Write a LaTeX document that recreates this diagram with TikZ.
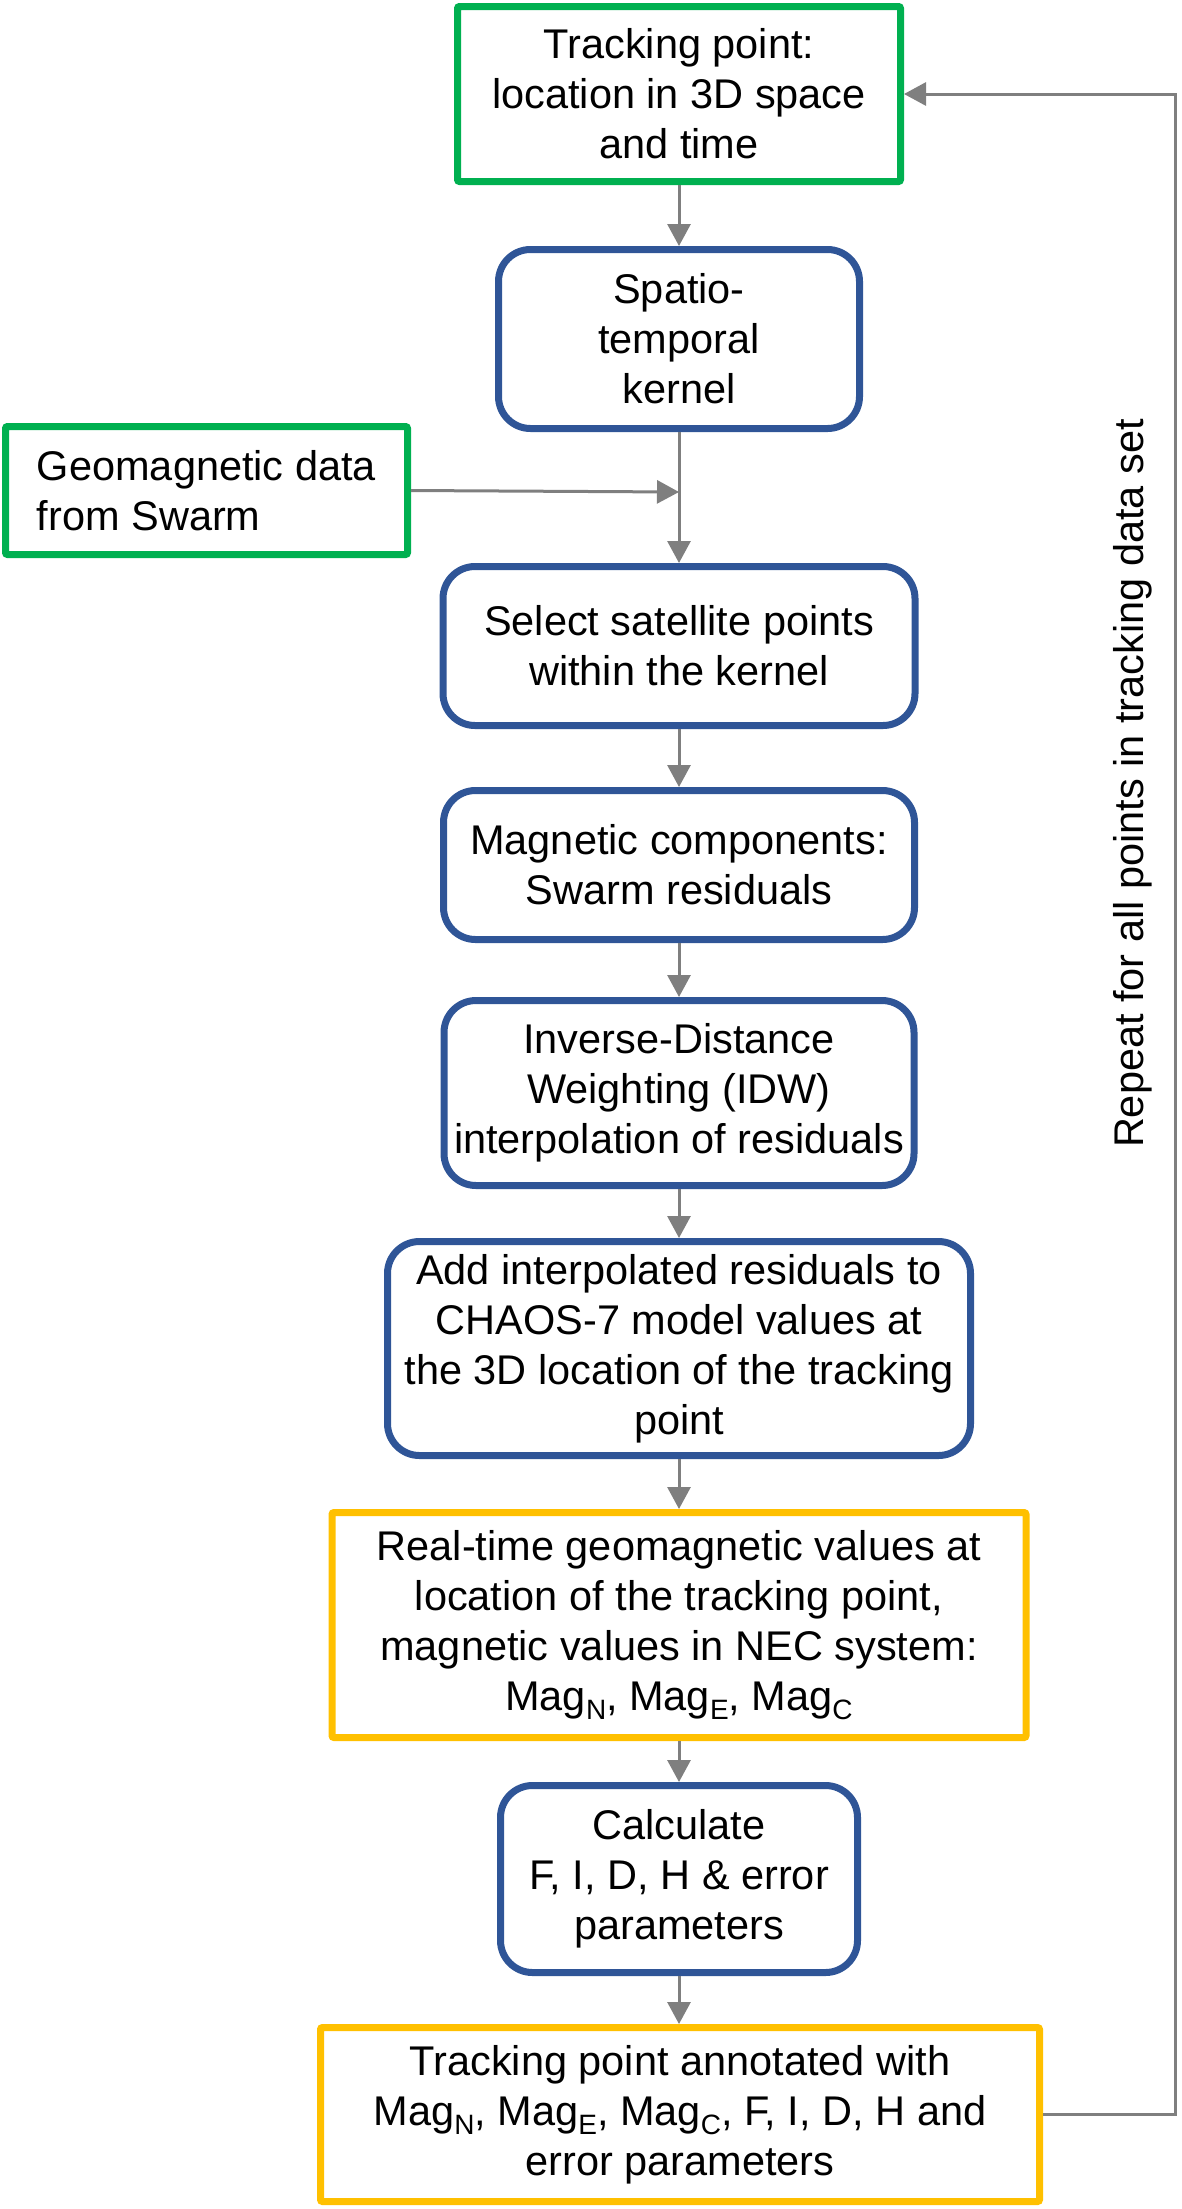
\documentclass[tikz,border=0pt]{standalone}
\usepackage{fontspec}
\setmainfont{Liberation Sans}
\usetikzlibrary{arrows.meta}
\definecolor{boxgreen}{HTML}{00B050}
\definecolor{boxblue}{HTML}{2F5597}
\definecolor{boxorange}{HTML}{FFC000}
\definecolor{arrowgray}{HTML}{7F7F7F}
\newcommand\magsub[1]{\raisebox{-9pt}{\fontsize{28pt}{28pt}\selectfont #1}}
\begin{document}
\begin{tikzpicture}[x=1pt,y=-1pt,
  every node/.style={font=\fontsize{41.5pt}{50pt}\selectfont, align=center, inner sep=0pt},
  greenbox/.style={draw=boxgreen, line width=7pt, rectangle, rounded corners=2pt},
  bluebox/.style={draw=boxblue, line width=7pt, rectangle, rounded corners=32pt},
  orangebox/.style={draw=boxorange, line width=7pt, rectangle, rounded corners=2pt},
  flow/.style={draw=arrowgray, line width=3pt, -{Triangle[length=22pt,width=23pt]}},
]
\useasboundingbox (0,0) rectangle (1181,2209);

\node[greenbox, minimum width=443pt, minimum height=175pt] (track) at (679,94)
  {Tracking point:\\location in 3D space\\and time};
\node[bluebox, minimum width=361pt, minimum height=179pt] (kernel) at (679,339)
  {Spatio-\\temporal\\kernel};
\node[greenbox, align=left, minimum width=402pt, minimum height=128pt] (geo) at (206.5,490.5)
  {Geomagnetic data\\from Swarm};
\node[bluebox, minimum width=472pt, minimum height=159pt] (select) at (679,646)
  {Select satellite points\\within the kernel};
\node[bluebox, minimum width=471pt, minimum height=149pt] (magcomp) at (679,865)
  {Magnetic components:\\Swarm residuals};
\node[bluebox, minimum width=470pt, minimum height=185pt] (idw) at (679,1093)
  {Inverse-Distance\\Weighting (IDW)\\interpolation of residuals};
\node[bluebox, minimum width=583pt, minimum height=214pt] (add) at (679,1348.5)
  {Add interpolated residuals to\\CHAOS-7 model values at\\the 3D location of the tracking\\point};
\node[orangebox, minimum width=694pt, minimum height=225pt] (realtime) at (679,1625)
  {Real-time geomagnetic values at\\location of the tracking point,\\magnetic values in NEC system:\\Mag\magsub{N}, Mag\magsub{E}, Mag\magsub{C}};
\node[bluebox, minimum width=357pt, minimum height=187pt] (calc) at (679,1879)
  {Calculate\\F, I, D, H \& error\\parameters};
\node[orangebox, minimum width=719pt, minimum height=174pt] (final) at (680,2114.5)
  {Tracking point annotated with\\Mag\magsub{N}, Mag\magsub{E}, Mag\magsub{C}, F, I, D, H and\\error parameters};

\node[rotate=90, anchor=base] (repeat) at (1143,783.5) {Repeat for all points in tracking data set};

\coordinate (junc) at (679,492);
\coordinate (loopbot) at (1175,2114.5);
\coordinate (looptop) at (1175,94);

\draw[flow] (track.south) -- (kernel.north);
\draw[flow] (kernel.south) -- (select.north);
\draw[flow] (geo.east) -- (junc);
\draw[flow] (select.south) -- (magcomp.north);
\draw[flow] (magcomp.south) -- (idw.north);
\draw[flow] (idw.south) -- (add.north);
\draw[flow] (add.south) -- (realtime.north);
\draw[flow] (realtime.south) -- (calc.north);
\draw[flow] (calc.south) -- (calc.south |- final.north);
\draw[flow] (final.east) -- (loopbot) -- (looptop) -- (track.east);
\end{tikzpicture}
\end{document}
